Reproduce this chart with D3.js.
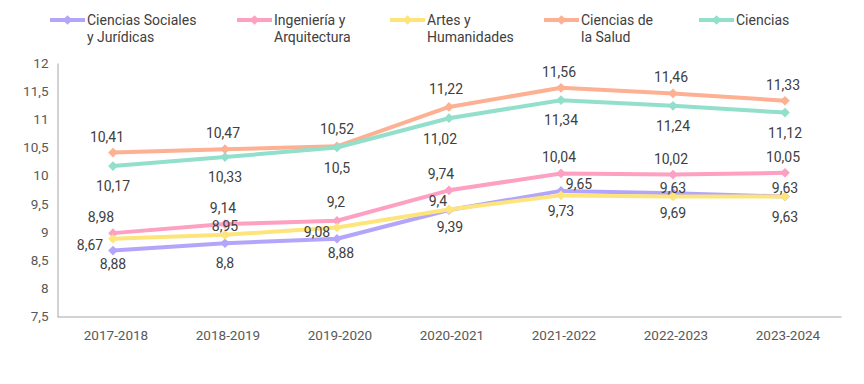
<!DOCTYPE html>
<html>
<head>
<meta charset="utf-8">
<script src="https://cdn.jsdelivr.net/npm/d3@7"></script>
<style>
  body { margin: 0; background: #fff; }
  svg { display: block; font-family: Roboto, "Noto Sans", sans-serif; }
</style>
</head>
<body>
<svg id="chart" width="864" height="384"></svg>
<script>
// Categories (academic years)
var years = ['2017-2018', '2018-2019', '2019-2020', '2020-2021', '2021-2022', '2022-2023', '2023-2024'];

// Series names (legend, two lines each)
var seriesNames = [
    ['Ciencias Sociales', 'y Jurídicas'],
    ['Ingeniería y', 'Arquitectura'],
    ['Artes y', 'Humanidades'],
    ['Ciencias de', 'la Salud'],
    ['Ciencias']
];

// Series values
var socialesValues = [8.67, 8.8, 8.88, 9.39, 9.73, 9.69, 9.63];
var ingenieriaValues = [8.98, 9.14, 9.2, 9.74, 10.04, 10.02, 10.05];
var artesValues = [8.88, 8.95, 9.08, 9.4, 9.65, 9.63, 9.63];
var saludValues = [10.41, 10.47, 10.52, 11.22, 11.56, 11.46, 11.33];
var cienciasValues = [10.17, 10.33, 10.5, 11.02, 11.34, 11.24, 11.12];

// Y tick labels
var yTicks = [7.5, 8, 8.5, 9, 9.5, 10, 10.5, 11, 11.5, 12];

var allValues = [socialesValues, ingenieriaValues, artesValues, saludValues, cienciasValues];
var colors = ['#b3a6fa', '#fda0c2', '#fde57c', '#fdb092', '#92dfcb'];

// Label placement per series (dx, dy from the point), with a few overrides
var labelDefault = [[0, 20], [-2, -16], [0, -9], [-2, -16], [0, 20]];
var labelOverride = {
    '0,0': [-23, -6], '0,2': [4, 14], '0,3': [1, 17],
    '2,0': [0, 25], '2,2': [-20, 5], '2,3': [-11, -8], '2,4': [18, -11],
    '1,0': [-12, -16], '1,3': [-8, -16], '1,2': [-1, -19],
    '3,0': [-6, -16], '3,3': [-3, -18], '3,2': [0, -17],
    '4,3': [-9, 21]
};

var fmt = function (v) { return String(v).replace('.', ','); };

var svg = d3.select('#chart');

var x = d3.scaleBand()
    .domain(years)
    .range([57, 841]);

var y = d3.scaleLinear()
    .domain([7.5, 12])
    .range([316.5, 63]);

// Y axis
var yAxis = svg.append('g')
    .attr('transform', 'translate(57.5,0)')
    .call(d3.axisLeft(y).tickValues(yTicks).tickSize(0).tickPadding(9).tickFormat(fmt));
yAxis.select('.domain').attr('stroke', '#a6a6a6').attr('stroke-width', 1);
yAxis.selectAll('text')
    .attr('fill', '#595959')
    .style('font-size', '13.5px')
    .style('font-family', 'Roboto, sans-serif');

// X axis
var xAxis = svg.append('g')
    .attr('transform', 'translate(0,' + y(7.5) + ')')
    .call(d3.axisBottom(x).tickSize(0).tickPadding(14));
xAxis.select('.domain')
    .attr('stroke', '#a6a6a6');
xAxis.selectAll('text')
    .attr('dx', 3)
    .attr('fill', '#595959')
    .style('font-size', '13.5px')
    .style('font-family', 'Roboto, sans-serif');

var line = d3.line()
    .x(function (d, i) { return x(years[i]) + x.bandwidth() / 2; })
    .y(function (d) { return y(d); });

var diamond = d3.symbol().type(d3.symbolDiamond2).size(60);

// Lines and markers
allValues.forEach(function (vals, s) {
    svg.append('path')
        .datum(vals)
        .attr('d', line)
        .attr('fill', 'none')
        .attr('stroke', colors[s])
        .attr('stroke-width', 4)
        .attr('stroke-linejoin', 'round');

    svg.selectAll('.m' + s)
        .data(vals)
        .enter().append('path')
        .attr('class', 'm' + s)
        .attr('d', diamond)
        .attr('fill', colors[s])
        .attr('transform', function (d, i) {
            return 'translate(' + (x(years[i]) + x.bandwidth() / 2) + ',' + y(d) + ')';
        });
});

// Data labels
allValues.forEach(function (vals, s) {
    svg.selectAll('.l' + s)
        .data(vals)
        .enter().append('text')
        .attr('class', 'l' + s)
        .attr('x', function (d, i) {
            var off = labelOverride[s + ',' + i] || labelDefault[s];
            return x(years[i]) + x.bandwidth() / 2 + off[0];
        })
        .attr('y', function (d, i) {
            var off = labelOverride[s + ',' + i] || labelDefault[s];
            return y(d) + off[1];
        })
        .attr('text-anchor', 'middle')
        .attr('dominant-baseline', 'central')
        .attr('fill', '#404040')
        .style('font-size', '14px')
        .text(fmt);
});

// Legend
var legendX = [50, 237, 390, 544, 699];
var legend = svg.append('g');
seriesNames.forEach(function (name, s) {
    var g = legend.append('g').attr('transform', 'translate(' + legendX[s] + ',20)');
    g.append('line')
        .attr('x1', 0).attr('x2', 35)
        .attr('stroke', colors[s])
        .attr('stroke-width', 4);
    g.append('path')
        .attr('d', diamond)
        .attr('fill', colors[s])
        .attr('transform', 'translate(17.5,0)');
    g.selectAll('text')
        .data(name)
        .enter().append('text')
        .attr('x', 37)
        .attr('y', function (d, i) { return i * 17; })
        .attr('dominant-baseline', 'central')
        .attr('fill', '#404040')
        .style('font-size', '14px')
        .text(function (d) { return d; });
});
</script>
</body>
</html>
